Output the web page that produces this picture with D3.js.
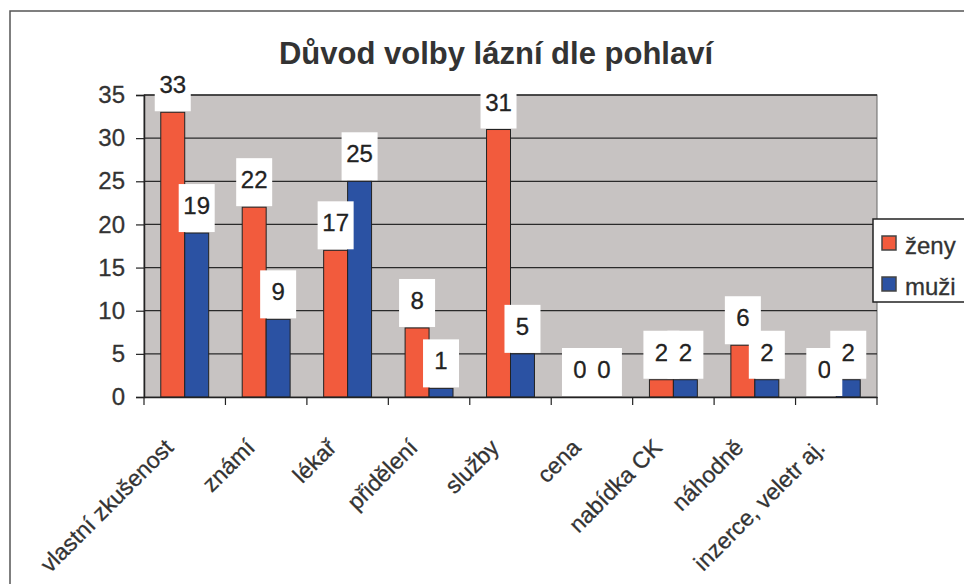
<!DOCTYPE html>
<html>
<head>
<meta charset="utf-8">
<script src="https://cdn.jsdelivr.net/npm/d3@7"></script>
<style>
  body { margin: 0; background: #fff; }
  svg { display: block; font-family: Arial, "Liberation Sans", sans-serif; }
</style>
</head>
<body>
<svg id="chart" width="964" height="584"></svg>
<script>
const categories = [
  "vlastní zkušenost", "známí", "lékař", "přidělení", "služby",
  "cena", "nabídka CK", "náhodně", "inzerce, veletr aj.",
];
const seriesNames = ["ženy", "muži"];
const zeny = [33, 22, 17, 8, 31, 0, 2, 6, 0];
const muzi = [19, 9, 25, 1, 5, 0, 2, 2, 2];
const yTicks = [0, 5, 10, 15, 20, 25, 30, 35];

const colors = { "ženy": "#f25b3d", "muži": "#2b52a3" };

const svg = d3.select("#chart");
const width = 964;
const height = 584;

// outer frame (runs off the right and bottom edges like the scan)
svg.append("rect")
  .attr("x", 10).attr("y", 11)
  .attr("width", width).attr("height", height)
  .attr("fill", "#fff")
  .attr("stroke", "#555")
  .attr("stroke-width", 1.5);

const plot = { left: 144, right: 877, top: 95, bottom: 397 };

const x0 = d3.scaleBand()
  .domain(categories)
  .range([plot.left, plot.right])
  .paddingInner(0)
  .paddingOuter(0);

const x1 = d3.scaleBand()
  .domain(seriesNames)
  .range([0, x0.bandwidth()])
  .paddingInner(0)
  .paddingOuter(0.7);

const y = d3.scaleLinear().domain([0, 35]).range([plot.bottom, plot.top]);

// title
svg.append("text")
  .attr("x", 496).attr("y", 64)
  .attr("text-anchor", "middle")
  .attr("font-size", 31)
  .attr("font-weight", "bold")
  .attr("fill", "#333")
  .text("Důvod volby lázní dle pohlaví");

// plot background
svg.append("rect")
  .attr("x", plot.left).attr("y", plot.top)
  .attr("width", plot.right - plot.left)
  .attr("height", plot.bottom - plot.top)
  .attr("fill", "#c7c3c2")
  .attr("stroke", "#666")
  .attr("stroke-width", 1);

// gridlines
svg.append("g")
  .selectAll("line")
  .data(yTicks.filter((t) => t > 0))
  .join("line")
  .attr("x1", plot.left).attr("x2", plot.right)
  .attr("y1", (d) => y(d)).attr("y2", (d) => y(d))
  .attr("stroke", "#2a2a2a")
  .attr("stroke-width", 1.3);

// y axis
const yAxis = svg.append("g")
  .attr("transform", `translate(${plot.left},0)`)
  .call(d3.axisLeft(y).tickValues(yTicks).tickSize(8).tickPadding(11));
yAxis.select(".domain").attr("stroke", "#222").attr("stroke-width", 1.5);
yAxis.selectAll(".tick line").attr("stroke", "#222").attr("stroke-width", 1.2);
yAxis.selectAll(".tick text")
  .attr("font-size", 24)
  .attr("font-family", "Arial, 'Liberation Sans', sans-serif")
  .attr("fill", "#333")
  .attr("stroke", "#333")
  .attr("stroke-width", 0.3);

// bars
const rows = categories.map((c, i) => ({ cat: c, "ženy": zeny[i], "muži": muzi[i] }));

const groups = svg.append("g")
  .selectAll("g")
  .data(rows)
  .join("g")
  .attr("transform", (d) => `translate(${x0(d.cat)},0)`);

groups.selectAll("rect")
  .data((d) => seriesNames.map((k) => ({ key: k, value: d[k] })))
  .join("rect")
  .attr("x", (d) => x1(d.key))
  .attr("y", (d) => y(d.value))
  .attr("width", x1.bandwidth())
  .attr("height", (d) => y(0) - y(d.value))
  .attr("fill", (d) => colors[d.key])
  .attr("stroke", "#222")
  .attr("stroke-width", 1);

// data label boxes
const labels = groups.selectAll("g.lbl")
  .data((d) => seriesNames.map((k) => ({ key: k, value: d[k] })))
  .join("g")
  .attr("class", "lbl")
  .attr("transform", (d) => `translate(${x1(d.key) + x1.bandwidth() / 2},${y(d.value)})`);

labels.append("rect")
  .attr("x", -18).attr("y", -49)
  .attr("width", 36).attr("height", 48)
  .attr("fill", "#fff");

labels.append("text")
  .attr("y", -19)
  .attr("text-anchor", "middle")
  .attr("font-size", 24)
  .attr("fill", "#222")
  .attr("stroke", "#222")
  .attr("stroke-width", 0.3)
  .text((d) => d.value);

// x axis
const xAxis = svg.append("g")
  .attr("transform", `translate(0,${plot.bottom})`)
  .call(d3.axisBottom(x0).tickSize(0).tickFormat(""));
xAxis.select(".domain").attr("stroke", "#222").attr("stroke-width", 1.5);

// category tick marks at band edges
svg.append("g")
  .selectAll("line")
  .data(categories.map((c) => x0(c)).concat([plot.right]))
  .join("line")
  .attr("x1", (d) => d).attr("x2", (d) => d)
  .attr("y1", plot.bottom).attr("y2", plot.bottom + 8)
  .attr("stroke", "#222")
  .attr("stroke-width", 1.2);

// rotated category labels
svg.append("g")
  .selectAll("text")
  .data(categories)
  .join("text")
  .attr("transform", (d) =>
    `translate(${x0(d) + x0.bandwidth() / 2 - 10},${plot.bottom + 52}) rotate(-45)`)
  .attr("text-anchor", "end")
  .attr("font-size", 23)
  .attr("fill", "#333")
  .attr("stroke", "#333")
  .attr("stroke-width", 0.3)
  .text((d) => d);

// legend
const legend = svg.append("g").attr("transform", "translate(873,219)");
legend.append("rect")
  .attr("width", 120).attr("height", 83)
  .attr("fill", "#fff")
  .attr("stroke", "#222")
  .attr("stroke-width", 1.5);

const items = legend.selectAll("g")
  .data(seriesNames)
  .join("g")
  .attr("transform", (d, i) => `translate(0,${24 + i * 41})`);

items.append("rect")
  .attr("x", 9).attr("y", -7)
  .attr("width", 14).attr("height", 14)
  .attr("fill", (d) => colors[d])
  .attr("stroke", "#444")
  .attr("stroke-width", 1.5);

items.append("text")
  .attr("x", 32).attr("y", 4)
  .attr("dy", "0.3em")
  .attr("font-size", 24)
  .attr("fill", "#333")
  .attr("stroke", "#333")
  .attr("stroke-width", 0.3)
  .text((d) => d);
</script>
</body>
</html>
